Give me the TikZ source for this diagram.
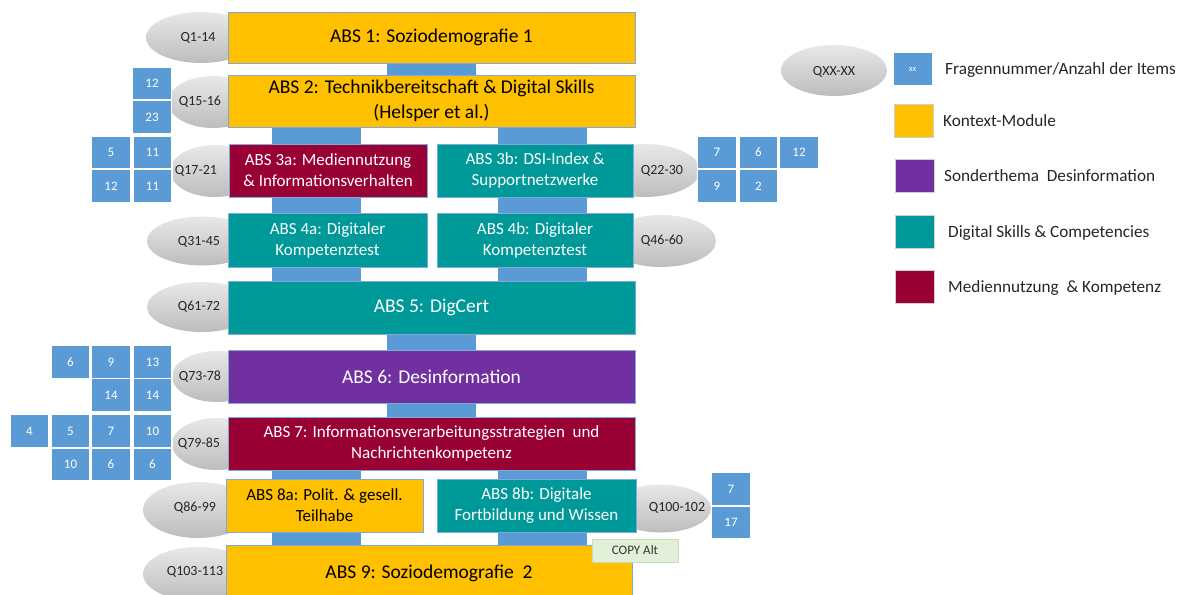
\documentclass[tikz,border=0pt]{standalone}
\usepackage{fontspec}
\setmainfont{Carlito}
\usetikzlibrary{shapes.geometric,backgrounds}
\definecolor{korange}{HTML}{FFC000}
\definecolor{kteal}{HTML}{009999}
\definecolor{kpurple}{HTML}{7030A0}
\definecolor{kred}{HTML}{990033}
\definecolor{kblue}{HTML}{5B9BD5}
\definecolor{kborder}{HTML}{7FA9DA}
\definecolor{kgreen}{HTML}{E2F0D9}
\definecolor{kgreenb}{HTML}{CADDBB}
\newcommand\fsz[2]{\fontsize{#1}{#2}\selectfont}
\begin{document}
\begin{tikzpicture}[x=1pt,y=-1pt,
  absbox/.style={rectangle, draw=kborder, line width=0.8pt, inner sep=0pt, align=center},
  bigtxt/.style={font=\fsz{19.5}{24.5}},
  smalltxt/.style={font=\fsz{17}{21}},
  qell/.style={ellipse, top color=black!9, bottom color=black!26, draw=none, inner sep=0pt},
  qtxt/.style={font=\fsz{14}{16}, text=black!85, inner sep=0pt},
  nbox/.style={rectangle, fill=kblue, draw=white, line width=1.2pt, minimum width=39pt, minimum height=32.5pt, text=white, font=\fsz{13}{15}, inner sep=0pt},
  legsq/.style={rectangle, draw=black!18, line width=1pt, minimum width=39pt, minimum height=33pt, inner sep=0pt},
  legtxt/.style={anchor=west, font=\fsz{17.2}{20}, text=black!85, inner sep=0pt},
  barline/.style={draw=kblue, line width=89pt, line cap=butt}
]
\useasboundingbox (0,0) rectangle (1185,594);

% ---- ellipses (behind) ----
\node[qell, minimum width=110pt, minimum height=51pt] (e1) at (201,37.5) {};
\node[qell, minimum width=90pt, minimum height=52pt] (e2) at (213,102) {};
\node[qell, minimum width=90pt, minimum height=52pt] (e3) at (215,171) {};
\node[qell, minimum width=110pt, minimum height=53pt] (e3b) at (645,170.5) {};
\node[qell, minimum width=110pt, minimum height=49pt] (e4) at (202,241) {};
\node[qell, minimum width=110pt, minimum height=52pt] (e4b) at (661,241) {};
\node[qell, minimum width=110pt, minimum height=50pt] (e5) at (202,307) {};
\node[qell, minimum width=90pt, minimum height=51pt] (e6) at (217,376.5) {};
\node[qell, minimum width=90pt, minimum height=52pt] (e7) at (217,444) {};
\node[qell, minimum width=110pt, minimum height=56pt] (e8) at (198,510) {};
\node[qell, minimum width=100pt, minimum height=48pt] (e8b) at (661,508.5) {};
\node[qell, minimum width=110pt, minimum height=54pt] (e9) at (198,574) {};
\node[qell, minimum width=106pt, minimum height=51pt] (ex) at (834,70.5) {};

% ---- main boxes ----
\node[absbox, bigtxt, fill=korange, minimum width=407pt, minimum height=51pt] (a1) at (431.5,37.5) {ABS 1: Soziodemografie 1};
\node[absbox, bigtxt, fill=korange, minimum width=407pt, minimum height=52pt] (a2) at (431.5,101) {ABS 2: Technikbereitschaft \& Digital Skills\\(Helsper et al.)};
\node[absbox, smalltxt, fill=kred, text=white, minimum width=198pt, minimum height=53pt] (a3a) at (328,170.5) {ABS 3a: Mediennutzung\\\& Informationsverhalten};
\node[absbox, smalltxt, fill=kteal, text=white, minimum width=196pt, minimum height=53pt] (a3b) at (535,170.5) {ABS 3b: DSI-Index \&\\Supportnetzwerke};
\node[absbox, smalltxt, fill=kteal, text=white, minimum width=199pt, minimum height=54pt] (a4a) at (327.5,240) {ABS 4a: Digitaler\\Kompetenztest};
\node[absbox, smalltxt, fill=kteal, text=white, minimum width=196pt, minimum height=54pt] (a4b) at (535,240) {ABS 4b: Digitaler\\Kompetenztest};
\node[absbox, bigtxt, fill=kteal, text=white, minimum width=407pt, minimum height=53pt] (a5) at (431.5,307.5) {ABS 5: DigCert};
\node[absbox, bigtxt, fill=kpurple, text=white, minimum width=407pt, minimum height=53pt] (a6) at (431.5,376.5) {ABS 6: Desinformation};
\node[absbox, smalltxt, fill=kred, text=white, minimum width=407pt, minimum height=53pt] (a7) at (431.5,443.5) {ABS 7: Informationsverarbeitungsstrategien\ \ und\\Nachrichtenkompetenz};
\node[absbox, smalltxt, fill=korange, minimum width=197pt, minimum height=53pt] (a8a) at (324.5,505.5) {ABS 8a: Polit. \& gesell.\\Teilhabe};
\node[absbox, smalltxt, fill=kteal, text=white, minimum width=199pt, minimum height=53pt] (a8b) at (536.5,505.5) {ABS 8b: Digitale\\Fortbildung und Wissen};
\node[absbox, bigtxt, fill=korange, minimum width=406pt, minimum height=56pt] (a9) at (429,573) {ABS 9: Soziodemografie\ \ 2};

% ---- connector bars (behind boxes) ----
\begin{pgfonlayer}{background}
\draw[barline] (a1.south) -- (a2.north);
\draw[barline] ([xshift=-115pt]a2.south) -- ([xshift=-11.5pt]a3a.north);
\draw[barline] ([xshift=111pt]a2.south) -- ([xshift=7.5pt]a3b.north);
\draw[barline] ([xshift=-11.5pt]a3a.south) -- ([xshift=-11pt]a4a.north);
\draw[barline] ([xshift=7.5pt]a3b.south) -- ([xshift=7.5pt]a4b.north);
\draw[barline] ([xshift=-11pt]a4a.south) -- ([xshift=-115pt]a5.north);
\draw[barline] ([xshift=7.5pt]a4b.south) -- ([xshift=111pt]a5.north);
\draw[barline] (a5.south) -- (a6.north);
\draw[barline] (a6.south) -- (a7.north);
\draw[barline] ([xshift=-115pt]a7.south) -- ([xshift=-8pt]a8a.north);
\draw[barline] ([xshift=111pt]a7.south) -- ([xshift=6pt]a8b.north);
\draw[barline] ([xshift=-8pt]a8a.south) -- ([xshift=-112.5pt]a9.north);
\draw[barline] ([xshift=6pt]a8b.south) -- ([xshift=113.5pt]a9.north);
\end{pgfonlayer}

% ---- ellipse labels ----
\node[qtxt] (t1) at (198,37.5) {Q1-14};
\node[qtxt] (t2) at (200,102) {Q15-16};
\node[qtxt] (t3) at (196,171) {Q17-21};
\node[qtxt] (t3b) at (662,171) {Q22-30};
\node[qtxt] (t4) at (199,242) {Q31-45};
\node[qtxt] (t4b) at (662,241) {Q46-60};
\node[qtxt] (t5) at (199,307) {Q61-72};
\node[qtxt] (t6) at (200,376.5) {Q73-78};
\node[qtxt] (t7) at (199,444) {Q79-85};
\node[qtxt] (t8) at (195,508) {Q86-99};
\node[qtxt] (t8b) at (677,508) {Q100-102};
\node[qtxt] (t9) at (195,572) {Q103-113};
\node[qtxt] (tx) at (834,71.5) {QXX-XX};

% ---- item count boxes ----
\node[nbox] (b2a) at (152,83.5) {12};
\node[nbox] (b2b) at (152,117) {23};
\node[nbox] (b3a) at (111,152.5) {5};
\node[nbox] (b3b) at (152.5,152.5) {11};
\node[nbox] (b3c) at (111,186) {12};
\node[nbox] (b3d) at (152.5,186) {11};
\node[nbox] (c3a) at (717,152.5) {7};
\node[nbox] (c3b) at (758.5,152.5) {6};
\node[nbox] (c3c) at (799,152.5) {12};
\node[nbox] (c3d) at (717,186) {9};
\node[nbox] (c3e) at (758.5,186) {2};
\node[nbox] (b6a) at (70.5,362) {6};
\node[nbox] (b6b) at (111,362) {9};
\node[nbox] (b6c) at (152.5,362) {13};
\node[nbox] (b6d) at (111,395) {14};
\node[nbox] (b6e) at (152.5,395) {14};
\node[nbox] (b7a) at (29.5,431) {4};
\node[nbox] (b7b) at (70.5,431) {5};
\node[nbox] (b7c) at (111,431) {7};
\node[nbox] (b7d) at (152.5,431) {10};
\node[nbox] (b7e) at (70.5,464.5) {10};
\node[nbox] (b7f) at (111,464.5) {6};
\node[nbox] (b7g) at (152.5,464.5) {6};
\node[nbox] (c8a) at (731,489) {7};
\node[nbox] (c8b) at (731,522.5) {17};

% ---- copy note ----
\node[rectangle, fill=kgreen, draw=kgreenb, line width=0.8pt, minimum width=86pt, minimum height=23pt, inner sep=0pt, font=\fsz{13}{15}, text=black!80] (cp) at (635,550.5) {COPY Alt};

% ---- legend ----
\node[nbox, legsq, fill=kblue, draw=white, font=\fsz{8.5}{10}, text=white] (lx) at (912.5,69) {xx};
\node[legsq, fill=korange] (lo) at (914,121) {};
\node[legsq, fill=kpurple] (lp) at (914.5,175.5) {};
\node[legsq, fill=kteal] (lt) at (915,231.5) {};
\node[legsq, fill=kred] (lr) at (915,287) {};
\node[legtxt] (gx) at (945,70) {Fragennummer/Anzahl\ der Items};
\node[legtxt] (go) at (943,121) {Kontext-Module};
\node[legtxt] (gp) at (944,175.5) {Sonderthema\ \ Desinformation};
\node[legtxt] (gt) at (948,233) {Digital Skills \& Competencies};
\node[legtxt] (gr) at (948,288) {Mediennutzung\ \ \& Kompetenz};
\end{tikzpicture}
\end{document}
